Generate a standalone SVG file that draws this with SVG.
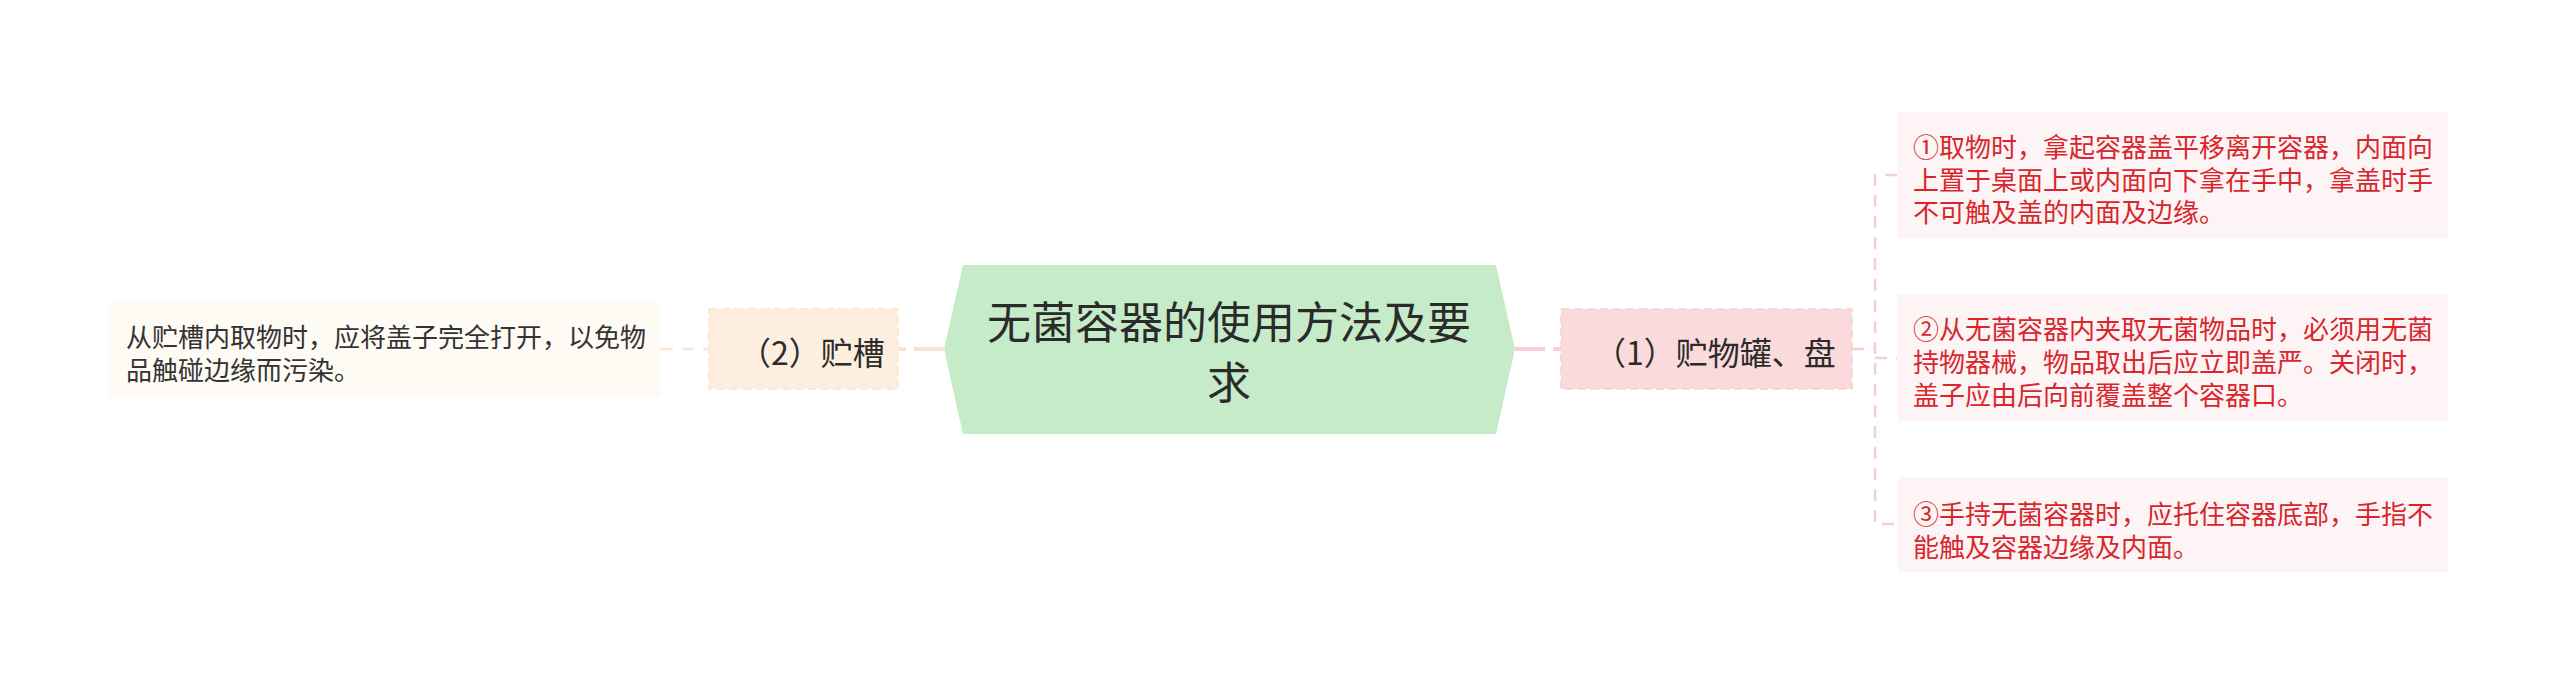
<svg xmlns="http://www.w3.org/2000/svg" width="2560" height="683" viewBox="0 0 2560 683">
<style>
text{font-family:"Noto Sans CJK SC","Liberation Sans",sans-serif;dominant-baseline:central}
.c{font-size:44px;fill:#2b2b2b;text-anchor:middle}
.m{font-size:32px;fill:#2b2b2b;text-anchor:middle}
.lf{font-size:26px;fill:#333333}
.rf{font-size:26px;fill:#d9262c}
.pk{stroke:#f3d0d3;stroke-width:2.5;fill:none;stroke-dasharray:12 9}
.pe{stroke:#fbe5d3;stroke-width:2.5;fill:none;stroke-dasharray:12 9}
</style>
<rect width="2560" height="683" fill="#ffffff"/>
<g id="connectors">
<line x1="1515" y1="349" x2="1561" y2="349" stroke="#f8cfd2" stroke-width="4" stroke-dasharray="30 8"/>
<line x1="944" y1="349" x2="898" y2="349" stroke="#fde3cf" stroke-width="4" stroke-dasharray="30 8"/>
<line x1="661" y1="349" x2="709" y2="349" class="pe"/>
<path d="M1852 349 H1875" class="pk"/>
<path d="M1897 175 H1875 V524 H1897" class="pk"/>
<path d="M1875 358 H1897" class="pk"/>
</g>
<g id="center">
<polygon points="944,349 963,265 1496,265 1515,349 1496,434 963,434" fill="#c6ebc9"/>
<text class="c" x="1229" y="320">无菌容器的使用方法及要</text>
<text class="c" x="1229" y="380">求</text>
</g>
<g id="n1">
<rect x="1561" y="309" width="291" height="80" fill="#fbdadb" stroke="#f6d0d2" stroke-width="1.5" stroke-dasharray="8 5"/>
<text class="m" x="1715" y="351">（1）贮物罐、盘</text>
</g>
<g id="n2">
<rect x="709" y="309" width="189" height="80" fill="#fdeedf" stroke="#fbe5d0" stroke-width="1.5" stroke-dasharray="8 5"/>
<text class="m" x="812" y="351">（2）贮槽</text>
</g>
<g id="leaf-left">
<rect x="109" y="302" width="552" height="95" fill="#fefaf4"/>
<text class="lf" x="126" y="335">从贮槽内取物时，应将盖子完全打开，以免物</text>
<text class="lf" x="126" y="368">品触碰边缘而污染。</text>
</g>
<g id="leaf-r1">
<rect x="1898" y="112" width="550" height="126" fill="#fdf5f5"/>
<text class="rf" x="1913" y="145">①取物时，拿起容器盖平移离开容器，内面向</text>
<text class="rf" x="1913" y="178">上置于桌面上或内面向下拿在手中，拿盖时手</text>
<text class="rf" x="1913" y="210">不可触及盖的内面及边缘。</text>
</g>
<g id="leaf-r2">
<rect x="1898" y="294" width="550" height="127" fill="#fdf5f5"/>
<text class="rf" x="1913" y="327">②从无菌容器内夹取无菌物品时，必须用无菌</text>
<text class="rf" x="1913" y="360">持物器械，物品取出后应立即盖严。关闭时，</text>
<text class="rf" x="1913" y="393">盖子应由后向前覆盖整个容器口。</text>
</g>
<g id="leaf-r3">
<rect x="1898" y="477" width="550" height="95" fill="#fdf5f5"/>
<text class="rf" x="1913" y="512">③手持无菌容器时，应托住容器底部，手指不</text>
<text class="rf" x="1913" y="545">能触及容器边缘及内面。</text>
</g>
</svg>
